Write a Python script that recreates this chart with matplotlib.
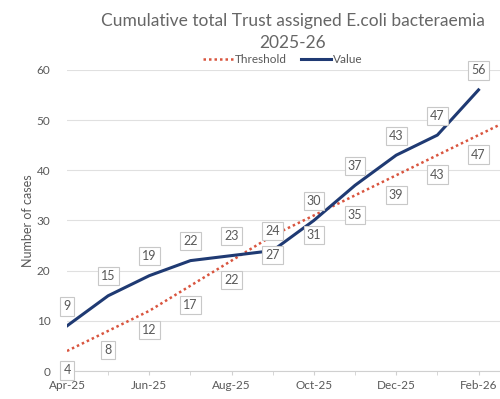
import numpy as np
import matplotlib.pyplot as plt

plt.rcParams['font.family'] = ['Lato', 'DejaVu Sans']

months = ["Apr-25", "May-25", "Jun-25", "Jul-25", "Aug-25", "Sep-25",
          "Oct-25", "Nov-25", "Dec-25", "Jan-26", "Feb-26", "Mar-26"]
threshold = [4, 8, 12, 17, 22, 27, 31, 35, 39, 43, 47, 51]
value = [9, 15, 19, 22, 23, 24, 30, 37, 43, 47, 56, np.nan]

grey = "#595959"
navy = "#1F3A73"
red = "#D9553F"

fig = plt.figure(figsize=(5, 3.99), dpi=100)
ax = fig.add_axes([0.134, 0.070, 0.93, 0.755])

x = np.arange(len(months))
ax.plot(x, threshold, color=red, lw=1.8, ls=(0, (1, 1.2)), label="Threshold", zorder=3)
ax.plot(x, value, color=navy, lw=2.2, label="Value", zorder=4)

box = dict(boxstyle="square,pad=0.25", fc="white", ec="#c8c8c8", lw=0.8)
for xi, v in zip(x, value):
    if not np.isnan(v):
        ax.annotate(f"{v:g}", (xi, v), xytext=(0, 14), textcoords="offset points",
                    ha="center", va="center", fontsize=9, color=grey, bbox=box, zorder=5)
# the last threshold point sits past the visible edge, so it gets no label
for xi, t in zip(x[:-1], threshold[:-1]):
    ax.annotate(f"{t:g}", (xi, t), xytext=(0, -14), textcoords="offset points",
                ha="center", va="center", fontsize=9, color=grey, bbox=box, zorder=5)

ax.set_xlim(0, 11.3)
ax.set_ylim(0, 60)
ax.set_yticks(range(0, 61, 10))
ax.set_xticks(x[::2])
ax.set_xticklabels(months[::2])
ax.set_xticks(x, minor=True)
ax.tick_params(axis="x", which="both", length=3, color="#d0d0d0", labelsize=8.5, labelcolor=grey)
ax.tick_params(axis="y", length=0, labelsize=8.5, labelcolor=grey, pad=12)
ax.grid(axis="y", color="#e0e0e0", lw=0.8)
ax.set_axisbelow(True)
for s in ["top", "right", "left"]:
    ax.spines[s].set_visible(False)
ax.spines["bottom"].set_color("#d0d0d0")

ax.set_ylabel("Number of cases", fontsize=9, color=grey, labelpad=2)
fig.text(0.585, 0.92, "Cumulative total Trust assigned E.coli bacteraemia\n2025-26",
         ha="center", va="center", fontsize=12.5, color="#666666", linespacing=1.4)
fig.legend(loc="center", bbox_to_anchor=(0.565, 0.85), ncol=2, frameon=False,
           fontsize=8.5, labelcolor=grey, handlelength=2.6, handletextpad=0.1,
           columnspacing=1.2)

fig.savefig("out.png", dpi=100)
